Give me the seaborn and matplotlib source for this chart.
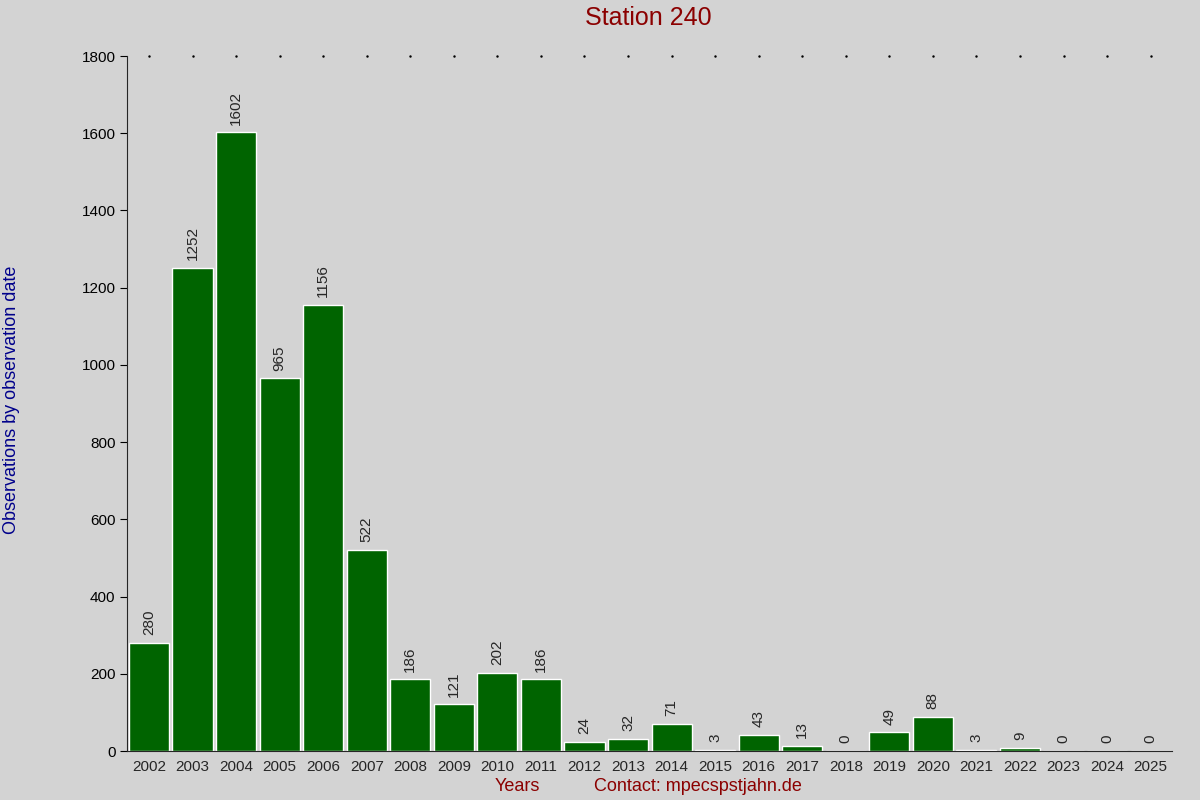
import matplotlib
matplotlib.use("Agg")
import matplotlib.pyplot as plt
import seaborn as sns
import pandas as pd

years = [str(y) for y in range(2002, 2026)]
counts = [280, 1252, 1602, 965, 1156, 522, 186, 121, 202, 186, 24, 32, 71, 3, 43, 13, 0, 49, 88, 3, 9, 0, 0, 0]
yticks = [0, 200, 400, 600, 800, 1000, 1200, 1400, 1600, 1800]

df = pd.DataFrame({"year": years, "count": counts})
sns.set_style("ticks")
plt.rcParams['font.family'] = ['Liberation Sans', 'DejaVu Sans']

fig = plt.figure(figsize=(12, 8), dpi=100, facecolor="#d3d3d3")
ax = fig.add_axes([0.106, 0.061, 0.871, 0.869])
ax.set_facecolor("#d3d3d3")
sns.barplot(data=df, x="year", y="count", color="#006400", saturation=1, width=0.92, ax=ax)
ax.set_xlim(-0.5, len(years) - 0.5)
ax.set_ylim(0, 1800)
ax.set_yticks(yticks)
ax.tick_params(axis="y", labelsize=11, length=5, direction="out", colors="black")
ax.tick_params(axis="x", labelsize=11, length=0, pad=6)
for s in ["top", "right"]:
    ax.spines[s].set_visible(False)
for i, v in enumerate(counts):
    ax.text(i, v + 20, str(v), rotation=90, ha="center", va="bottom", fontsize=11)
    ax.plot(i, 1800, marker=".", markersize=1.5, color="black", clip_on=False)
ax.set_xlabel("")
ax.set_ylabel("")
fig.text(0.54, 0.977, "Station 240", ha="center", va="center", fontsize=18, color="#8b0000")
fig.text(0.01, 0.5, "Observations by observation date", rotation=90, ha="center", va="center", fontsize=13, color="#00008b")
fig.text(0.431, 0.017, "Years", ha="center", va="center", fontsize=13, color="#8b0000")
fig.text(0.582, 0.017, "Contact: mpecspstjahn.de", ha="center", va="center", fontsize=13, color="#8b0000")
fig.savefig("out.png", dpi=100, facecolor=fig.get_facecolor())
